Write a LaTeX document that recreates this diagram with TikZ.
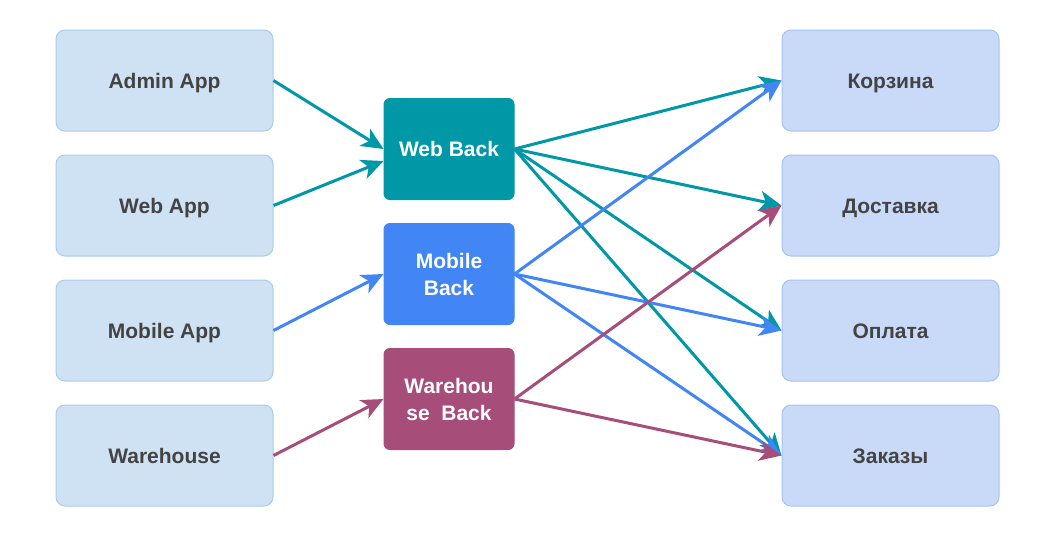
\documentclass[tikz,border=0pt]{standalone}
\usepackage{fontspec}
\setmainfont{Liberation Sans}
\usetikzlibrary{arrows.meta, positioning}
\definecolor{appfill}{HTML}{CFE2F3}
\definecolor{appstroke}{HTML}{A9CBEB}
\definecolor{svcfill}{HTML}{C9DAF8}
\definecolor{svcstroke}{HTML}{A4C2F4}
\definecolor{labelgray}{HTML}{434343}
\definecolor{webteal}{HTML}{0097A7}
\definecolor{mobileblue}{HTML}{4285F4}
\definecolor{storeplum}{HTML}{A64D79}

\begin{document}
\begin{tikzpicture}[
    app/.style={
        rectangle, rounded corners=9pt,
        minimum width=217pt, minimum height=101pt,
        text height=15pt, text depth=0pt,
        draw=appstroke, fill=appfill, line width=1pt,
        text=labelgray, font=\fontsize{21}{27}\selectfont\bfseries
    },
    back/.style={
        rectangle, rounded corners=6pt,
        minimum width=130pt, minimum height=101pt,
        draw=#1, fill=#1, line width=1pt, align=center,
        text=white, font=\fontsize{21}{27}\selectfont\bfseries
    },
    svc/.style={
        app, draw=svcstroke, fill=svcfill
    },
    flow/.style={
        line width=3pt, draw=#1,
        -{Stealth[length=22pt, width=20pt, inset=6pt]}
    }
]
\useasboundingbox (0,0) rectangle (1046pt,-558pt);

% ===== Clients =====
\node[app] (admin) at (164.5pt,-80.5pt) {Admin App};
\node[app, below=23pt of admin] (webapp)  {Web App};
\node[app, below=23pt of webapp] (mobapp) {Mobile App};
\node[app, below=23pt of mobapp] (wh)     {Warehouse};

% ===== Backends =====
\node[back=webteal]    (webback) at (449pt,-149pt) {Web Back};
\node[back=mobileblue, below=23pt of webback] (mobback) {Mobile\\Back};
\node[back=storeplum,  below=23pt of mobback] (whback)  {Warehou\\se\ \ Back};

% ===== Services =====
\node[svc] (cart) at (890.5pt,-80.5pt) {Корзина};
\node[svc, below=23pt of cart]  (ship)  {Доставка};
\node[svc, below=23pt of ship]  (pay)   {Оплата};
\node[svc, below=23pt of pay]   (order) {Заказы};

% ===== Clients -> backends =====
\draw[flow=webteal]    (admin.east)  -- (webback.west);
\draw[flow=webteal]    (webapp.east) -- ([yshift=-12pt]webback.west);
\draw[flow=mobileblue] (mobapp.east) -- (mobback.west);
\draw[flow=storeplum]  (wh.east)     -- (whback.west);

% ===== Backends -> services =====
\foreach \s in {cart, ship, pay, order}
    \draw[flow=webteal] (webback.east) -- (\s.west);
\foreach \s in {cart, pay, order}
    \draw[flow=mobileblue] (mobback.east) -- (\s.west);
\foreach \s in {ship, order}
    \draw[flow=storeplum] (whback.east) -- (\s.west);

\end{tikzpicture}
\end{document}
